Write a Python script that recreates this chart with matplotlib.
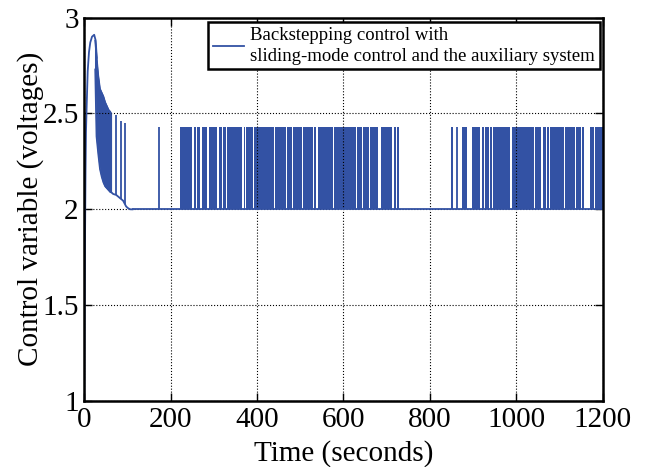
import numpy as np
import matplotlib
matplotlib.use('Agg')
import matplotlib.pyplot as plt

# levels of the switching control
u_low = 2.0
u_high = 2.43

# start-up transient
rise_t = [0, 1, 2, 3, 4, 5.5, 8, 11, 14, 18, 23, 26.5, 29]
rise_u = [1.0, 1.5, 1.9, 2.2, 2.4, 2.53, 2.72, 2.82, 2.87, 2.9, 2.91, 2.88, 2.79]

# dense chattering just after the peak (upper / lower envelope)
env_t = [25, 28, 32, 36, 40, 44, 48, 52, 56, 60, 62]
env_hi = [2.88, 2.80, 2.70, 2.63, 2.61, 2.59, 2.56, 2.54, 2.52, 2.51, 2.50]
env_lo = [2.73, 2.38, 2.29, 2.21, 2.17, 2.14, 2.12, 2.11, 2.10, 2.09, 2.09]

# lower curve settling to 2
tail_t = [62, 67, 74, 82, 90, 97, 102, 107, 112]
tail_u = [2.09, 2.08, 2.075, 2.06, 2.045, 2.015, 2.005, 2.0, 2.0]

# isolated spikes during settling
early_spk_t = [74, 85, 94.5]
early_spk_top = [2.49, 2.46, 2.45]

# isolated spikes at the high level
spikes = [173, 863]

# blocks where the control chatters between the two levels
bursts = [(221, 250), (253, 258), (261, 269), (272, 285), (288, 308), (311, 319),
          (322, 327), (330, 366), (369, 371), (374, 391), (394, 439), (442, 466),
          (469, 481), (484, 503), (507, 529), (532, 537), (540, 576), (579, 628),
          (631, 643), (646, 659), (662, 679), (688, 713), (716, 721), (724, 729),
          (850, 854), (875, 886), (898, 917), (920, 925), (928, 937), (940, 944),
          (947, 985), (991, 1041), (1044, 1058), (1061, 1068), (1071, 1076),
          (1079, 1110), (1113, 1135), (1138, 1149), (1152, 1158), (1170, 1180),
          (1183, 1200)]

xticks = [0, 200, 400, 600, 800, 1000, 1200]
yticks = [1, 1.5, 2, 2.5, 3]
ytick_labels = ['1', '1.5', '2', '2.5', '3']

col = '#3352a4'
plt.rcParams['font.family'] = ['Liberation Serif', 'DejaVu Serif']

fig = plt.figure(figsize=(6.48, 4.67), dpi=100)
ax = fig.add_axes([0.130, 0.141, 0.800, 0.8215])

# transient
ln, = ax.plot(rise_t, rise_u, color=col, lw=1.3)
ax.fill_between(env_t, env_lo, env_hi, color=col, lw=0.8)
ax.plot(env_t, env_hi, color=col, lw=1.0)
ax.plot(env_t, env_lo, color=col, lw=1.0)
ax.plot(tail_t, tail_u, color=col, lw=1.3)
ax.vlines(early_spk_t, np.interp(early_spk_t, tail_t, tail_u), early_spk_top, color=col, lw=1.3)

# baseline at the low level
ax.plot([tail_t[-1], xticks[-1]], [u_low, u_low], color=col, lw=1.3)

# switching part
for a, b in bursts:
    ax.fill_between([a, b], u_low, u_high, color=col, lw=0)
ax.vlines(spikes, u_low, u_high, color=col, lw=1.3)

ax.set_xlim(0, 1200)
ax.set_ylim(1, 3)
ax.set_xticks(xticks)
ax.set_yticks(yticks)
ax.set_yticklabels(ytick_labels)
ax.tick_params(direction='in', top=True, right=True, length=6, width=1, labelsize=21, pad=4)
ax.grid(True, linestyle=':', color='k', lw=0.8)
for s in ax.spines.values():
    s.set_linewidth(1.8)
ax.set_xlabel('Time (seconds)', fontsize=21, labelpad=5)
ax.set_ylabel('Control variable (voltages)', fontsize=21, labelpad=-1)

leg = ax.legend([ln], ['Backstepping control with\nsliding-mode control and the auxiliary system'],
                loc='upper right', fontsize=13.5, fancybox=False, framealpha=1,
                edgecolor='k', handlelength=1.7, borderpad=0.25, handletextpad=0.3,
                borderaxespad=0, bbox_to_anchor=(0.994, 0.988))
leg.get_frame().set_linewidth(1.8)
for t in leg.get_texts():
    t.set_linespacing(1.3)

fig.savefig('out.png', dpi=100)
